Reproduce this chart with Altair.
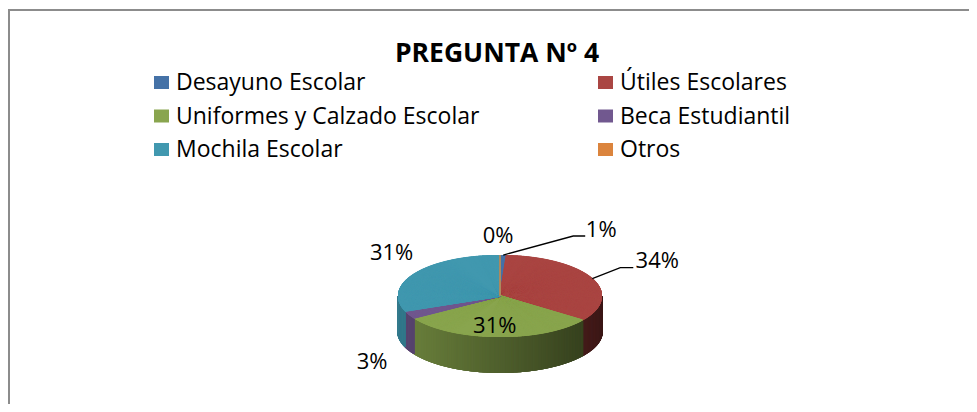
import math
import altair as alt
import pandas as pd

# ---------------- data ----------------
CATEGORIES = ["Desayuno Escolar", "Útiles Escolares", "Uniformes y Calzado Escolar",
              "Beca Estudiantil", "Mochila Escolar", "Otros"]
PERCENT = [1, 34, 31, 3, 31, 0]
COLORS = ["#4572A7", "#AA4643", "#89A54E", "#71588F", "#4198AF", "#DB843D"]
TITLE = "PREGUNTA Nº 4"

# ---------------- layout (chart pixel coords) ----------------
W, H = 961, 396
CX, CY, A, B, D = 492, 288, 102, 41, 36
FONT = "Open Sans"
FS_LEG = 23
FS_LAB = 22
# label offsets from the slice's rim point at mid-angle
LABEL_NUDGE = {
    "Desayuno Escolar": (98, -18),
    "Útiles Escolares": (65, -11),
    "Uniformes y Calzado Escolar": (-2, -4),
    "Beca Estudiantil": (-37, 54),
    "Mochila Escolar": (-24, -13),
    "Otros": (-2, -12),
}
# leader-line elbows/ends relative to rim point
LEADERS = {
    "Desayuno Escolar": [(0, 0), (70, -19), (82, -19)],
    "Útiles Escolares": [(0, 0), (28, -11), (41, -11)],
}

xs = alt.Scale(domain=[0, W], nice=False, zero=False)
ys = alt.Scale(domain=[0, H], nice=False, zero=False, reverse=True)

slices = pd.DataFrame({"cat": CATEGORIES, "pct": PERCENT, "color": COLORS,
                       "order": list(range(len(CATEGORIES)))})

base = (alt.Chart(slices)
        .transform_joinaggregate(total="sum(pct)")
        .transform_window(cum="sum(pct)", sort=[alt.SortField("order")], frame=[None, 0])
        .transform_calculate(a0="(datum.cum - datum.pct) / datum.total * 360",
                             a1="datum.cum / datum.total * 360")
        .transform_calculate(ang="sequence(datum.a0, datum.a1 + 0.05, 0.2)")
        .transform_flatten(["ang"])
        .transform_calculate(rad="datum.ang * PI / 180")
        .transform_calculate(cx0=f"{CX}", cy0=f"{CY}",
                             ex=f"{CX} + {A} * sin(datum.rad)",
                             ey=f"{CY} - {B} * cos(datum.rad)"))

side = (base
        .transform_filter("cos(datum.rad) < 0")
        .transform_calculate(ey2=f"datum.ey + {D}",
                             f="0.80 - 0.44 * (sin(datum.rad) + 1) / 2")
        .transform_calculate(shade="'rgb(' + round(rgb(datum.color).r * datum.f) + ',' + "
                                   "round(rgb(datum.color).g * datum.f) + ',' + "
                                   "round(rgb(datum.color).b * datum.f) + ')'")
        .mark_rule(strokeWidth=1.6)
        .encode(x=alt.X("ex:Q", scale=xs, axis=None),
                y=alt.Y("ey:Q", scale=ys, axis=None),
                y2="ey2:Q",
                color=alt.Color("shade:N", scale=None)))

top = (base.mark_rule(strokeWidth=1.4)
       .encode(x=alt.X("cx0:Q", scale=xs, axis=None),
               y=alt.Y("cy0:Q", scale=ys, axis=None),
               x2="ex:Q", y2="ey:Q",
               color=alt.Color("color:N", scale=None)))

# ---------------- labels ----------------
lab_rows, lead_rows = [], []
total = sum(PERCENT)
cum = 0
for c, p in zip(CATEGORIES, PERCENT):
    mid = (cum + p / 2) / total * 2 * math.pi
    cum += p
    rx, ry = CX + A * math.sin(mid), CY - B * math.cos(mid)
    dx, dy = LABEL_NUDGE[c]
    lab_rows.append({"cat": c, "txt": f"{p}%", "lx": rx + dx, "ly": ry + dy})
    for i, (ex_, ey_) in enumerate(LEADERS.get(c, [])):
        lead_rows.append({"cat": c, "seq": i, "x": rx + ex_, "y": ry + ey_})
labels_df = pd.DataFrame(lab_rows)
leaders_df = pd.DataFrame(lead_rows)

labels = (alt.Chart(labels_df)
          .mark_text(font=FONT, fontSize=FS_LAB, color="#000000", align="center",
                     baseline="alphabetic")
          .encode(x=alt.X("lx:Q", scale=xs, axis=None), y=alt.Y("ly:Q", scale=ys, axis=None),
                  text="txt:N"))

leaders = (alt.Chart(leaders_df)
           .mark_line(color="#000000", strokeWidth=1.3)
           .encode(x=alt.X("x:Q", scale=xs, axis=None), y=alt.Y("y:Q", scale=ys, axis=None),
                   detail="cat:N", order="seq:Q"))

# ---------------- legend ----------------
leg = (alt.Chart(slices)
       .transform_calculate(lx="146 + (datum.order % 2) * 444",
                            ty="68 + floor(datum.order / 2) * 33.5")
       .transform_calculate(lx2="datum.lx + 15", ty2="datum.ty + 13",
                            tx="datum.lx + 22", tb="datum.ty + 14"))
leg_sq = leg.mark_rect().encode(x=alt.X("lx:Q", scale=xs, axis=None), x2="lx2:Q",
                                y=alt.Y("ty:Q", scale=ys, axis=None), y2="ty2:Q",
                                color=alt.Color("color:N", scale=None))
leg_tx = leg.mark_text(font=FONT, fontSize=FS_LEG, align="left", baseline="alphabetic",
                       color="#000000").encode(
    x=alt.X("tx:Q", scale=xs, axis=None), y=alt.Y("tb:Q", scale=ys, axis=None), text="cat:N")

# ---------------- title & frame ----------------
title = (alt.Chart(pd.DataFrame({"t": [TITLE]}))
         .mark_text(font=FONT, fontSize=26.5, fontWeight="bold", align="center",
                    baseline="alphabetic", color="#000000")
         .encode(x=alt.value(489), y=alt.value(54), text="t:N"))
frame_top = alt.Chart(slices).mark_rule(color="#8c8c8c", strokeWidth=2).encode(
    x=alt.value(0), x2=alt.value(W), y=alt.value(2))
frame_left = alt.Chart(slices).mark_rule(color="#8c8c8c", strokeWidth=2).encode(
    x=alt.value(1), y=alt.value(1), y2=alt.value(H))

chart = (alt.layer(frame_top, frame_left, side, top, leaders, labels, leg_sq, leg_tx, title)
         .properties(width=W, height=H, padding=0, autosize="none", background="#ffffff")
         .configure_view(stroke=None))

chart.save("out.html", embed_options={"renderer": "svg", "actions": False})
